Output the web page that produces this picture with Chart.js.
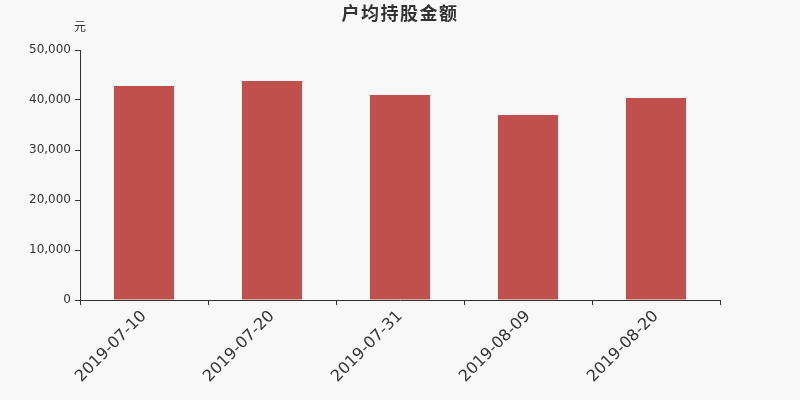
<!DOCTYPE html>
<html>
<head>
<meta charset="utf-8">
<script src="https://cdn.jsdelivr.net/npm/chart.js@4/dist/chart.umd.min.js"></script>
<style>
  html, body { margin: 0; padding: 0; background: #f8f8f8; }
  #wrap { width: 800px; height: 400px; }
</style>
</head>
<body>
<div id="wrap"><canvas id="holdChart" width="800" height="400"></canvas></div>
<script>
        // 户均持股金额 数据
        var dates = ['2019-07-10', '2019-07-20', '2019-07-31', '2019-08-09', '2019-08-20'];
        var amounts = [42800, 43800, 41000, 37000, 40400];
        var yTicks = [0, 10000, 20000, 30000, 40000, 50000];

        var fontFamily = '"DejaVu Sans", "Noto Sans CJK SC", sans-serif';

        // 제목과 "元" 단위 표시
        var headerText = {
            id: 'headerText',
            afterDraw: function (chart) {
                var c = chart.ctx;
                c.save();
                c.fillStyle = '#333';
                c.textAlign = 'center';
                c.textBaseline = 'middle';
                c.font = 'bold 18px "Noto Sans CJK SC", ' + fontFamily;
                c.letterSpacing = '1.5px';
                c.fillText('户均持股金额', chart.width / 2, 13);
                c.letterSpacing = '0px';
                c.font = '12px ' + fontFamily;
                c.fillText('元', chart.chartArea.left, 28);
                c.restore();
            }
        };

        var ctx = document.getElementById('holdChart').getContext('2d');
        var holdChart = new Chart(ctx, {
            type: 'bar',
            data: {
                labels: dates,
                datasets: [{
                    label: '户均持股金额',
                    data: amounts,
                    backgroundColor: '#c0504d',
                    borderWidth: 0,
                    categoryPercentage: 1,
                    barPercentage: 0.47
                }]
            },
            options: {
                responsive: false,
                animation: false,
                layout: { padding: { top: 50, left: 0, right: 80, bottom: 0 } },
                plugins: {
                    legend: { display: false },
                    tooltip: { enabled: false },
                    title: { display: false }
                },
                scales: {
                    x: {
                        border: { color: '#333', width: 1 },
                        grid: { offset: true, drawOnChartArea: false, drawTicks: true, tickLength: 5, color: '#333' },
                        ticks: {
                            color: '#333',
                            font: { family: fontFamily, size: 16 },
                            minRotation: 45,
                            maxRotation: 45,
                            padding: 2
                        },
                        afterFit: function (s) { s.height = 100; }
                    },
                    y: {
                        min: 0,
                        max: 50000,
                        afterBuildTicks: function (s) {
                            s.ticks = yTicks.map(function (v) { return { value: v }; });
                        },
                        border: { color: '#333', width: 1 },
                        grid: { drawOnChartArea: false, drawTicks: true, tickLength: 5, color: '#333' },
                        ticks: {
                            color: '#333',
                            padding: 4,
                            font: { family: fontFamily, size: 12 },
                            callback: function (v) { return v.toLocaleString('en-US'); }
                        },
                        afterFit: function (s) { s.width = 80; }
                    }
                }
            },
            plugins: [headerText]
        });
</script>
</body>
</html>
